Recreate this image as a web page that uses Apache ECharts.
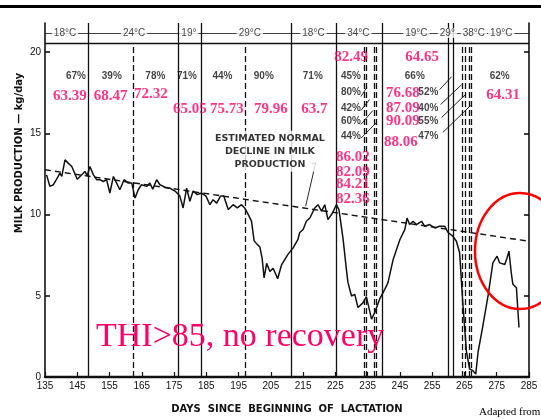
<!DOCTYPE html>
<html><head><meta charset="utf-8">
<script src="https://cdn.jsdelivr.net/npm/echarts@6/dist/echarts.min.js"></script>
<style>html,body{margin:0;padding:0;background:#fff}#c{width:541px;height:419px}</style>
</head><body><div id="c"></div>
<script>
// ---- data ----
const days = [
135.5,136.5,137.6,139.1,139.6,140.2,141.2,142.2,143.3,145.0,
146.4,147.4,148.1,148.9,150.0,151.0,152.0,153.1,154.1,155.1,
156.2,157.2,158.2,159.5,160.8,161.9,162.9,163.9,164.9,166.5,
167.5,168.4,169.6,170.6,172.2,173.7,175.3,176.8,177.8,178.9,
179.9,180.9,182.2,183.5,184.9,186.1,187.1,188.2,189.4,190.4,
191.8,193.3,194.6,195.9,196.9,198.0,199.0,199.8,200.6,201.6,
202.3,202.9,203.7,204.7,205.7,207.1,208.3,210.3,211.9,213.4,
213.9,215.0,216.0,217.1,218.6,219.6,220.7,221.7,222.7,224.1,
225.3,226.1,227.4,228.4,228.9,230.0,231.0,232.0,233.6,234.6,
236.2,237.2,238.7,240.3,241.3,242.9,245.0,246.5,247.2,248.0,
249.1,250.1,251.7,252.7,254.2,255.8,257.3,258.9,259.9,261.4,
262.5,263.5,264.5,265.6,266.6,267.6,268.5,269.2,270.7,272.3,
273.8,275.1,275.9,277.5,278.2,278.8,279.5,280.0,281.1,281.6,281.9];
const milk = [
12.45,11.74,11.84,12.35,12.55,12.35,13.37,13.17,12.96,12.18,
12.45,12.66,12.39,12.96,12.45,12.15,12.15,12.04,12.15,11.33,
12.35,11.94,11.53,12.15,11.94,11.94,11.02,11.53,11.84,11.74,
11.94,11.57,12.15,11.84,11.69,11.63,11.45,11.14,10.41,11.63,
10.82,11.45,11.23,11.33,11.14,10.61,10.92,10.71,11.14,11.14,
10.31,10.61,10.41,10.61,10.41,10.0,9.6,8.4,8.2,8.0,
7.3,6.1,7.0,6.5,6.7,6.05,6.9,7.55,7.95,8.47,
8.88,9.08,9.59,9.79,10.41,10.61,10.21,10.61,9.69,10.1,
10.61,10.31,8.47,6.63,5.81,4.99,5.09,4.28,4.58,4.95,
3.56,3.97,4.79,5.4,5.81,7.24,8.47,9.08,9.79,9.39,
9.59,9.39,9.59,9.28,9.39,9.18,9.28,9.28,8.9,8.67,
8.36,7.65,4.5,1.6,0.49,0.39,0.18,1.51,3.15,5.0,
7.03,7.44,7.03,6.93,7.34,7.75,6.42,5.71,5.5,3.97,3.05];

const normalDays = [135, 285];
const normalMilk = [12.76, 8.36];

const solidLines = [148.3, 176.2, 183.3, 211.2, 225.4, 239.5, 259.9, 261.4];
const dashedLines = [162.3, 197.2, 233.9, 234.6, 236.9, 237.7, 264.4, 265.1, 266.4, 267.1];

const tempLabels = ['18°C','24°C','19°','29°C','18°C','34°C','19°C','29°','38°C','19°C'];
const tempDays   = [141.2, 162.6, 179.6, 198.5, 218.2, 232.1, 250.1, 259.7, 267.9, 276.4];

const humLabels = ['67%','39%','78%','71%','44%','90%','71%','45%','80%','42%','60%','44%','66%','52%','40%','55%','47%','62%'];
const humDays   = [144.6,155.7,169.2,179.0,190.0,202.8,218.0,229.8,229.8,229.8,229.8,229.8,249.6,253.8,253.8,253.8,253.8,275.9];
const humVals   = [18.55,18.55,18.55,18.55,18.55,18.55,18.55,18.49,17.51,16.53,15.74,14.82,18.55,17.51,16.53,15.74,14.82,18.55];

const thiLabels = ['63.39','68.47','72.32','65.05','75.73','79.96','63.7','82.49','64.65','76.68','87.09','90.09','88.06','64.31','86.02','82.09','84.21','82.36'];
const thiDays   = [142.7,155.3,167.8,179.9,191.4,205.0,218.5,229.9,251.9,245.9,245.9,245.9,245.3,277.0,230.4,230.4,230.4,230.4];
const thiVals   = [17.27,17.27,17.4,16.47,16.47,16.47,16.47,19.72,19.72,17.51,16.53,15.74,14.45,17.33,13.53,12.61,11.88,10.96];

const leaderFrom = [[232.9,17.27],[232.9,16.41],[232.9,15.55],[232.9,14.70],[257.3,17.70],[257.6,16.78],[257.9,15.98],[258.3,15.06],[217.7,13.1],[218.9,13.2]];
const leaderTo   = [[234.7,17.82],[235.6,17.09],[236.6,16.41],[237.8,15.68],[261.0,18.49],[264.1,18.0],[265.3,17.39],[266.9,16.72],[218.9,13.2],[215.8,10.53]];

const xTicks = [135,145,155,165,175,185,195,205,215,225,235,245,255,265,275,285];
const yTicks = [0,5,10,15,20];
const yMax = 21.8, headerBottom = 20.55, headerMid = 21.19;
const noteText = 'ESTIMATED NORMAL\nDECLINE IN MILK\nPRODUCTION';
const noteAt = [204.7, 13.9];

// ---- chart ----
const INK = '#111';
const PINK = '#ff0066';
const chart = echarts.init(document.getElementById('c'));

const ml = [];
solidLines.forEach(d => ml.push([{coord:[d,0], lineStyle:{type:'solid', width:1.3}}, {coord:[d,yMax]}]));
dashedLines.forEach(d => ml.push([{coord:[d,0], lineStyle:{type:[6,3], width:1.3}}, {coord:[d,headerBottom]}]));
ml.push([{coord:[135,headerBottom], lineStyle:{type:'solid', width:1.3}}, {coord:[285,headerBottom]}]);
ml.push([{coord:[135,headerMid], lineStyle:{type:'solid', width:0.8}}, {coord:[285,headerMid]}]);
leaderFrom.forEach((p,i) => ml.push([{coord:p, lineStyle:{type:'solid', width:0.9}}, {coord:leaderTo[i]}]));

function labelSeries(names, xs, ys, style, z) {
  return {
    type:'scatter', symbolSize:1, itemStyle:{color:'rgba(0,0,0,0)'}, z:z, silent:true,
    data: names.map((n,i) => ({name:n, value:[xs[i], ys[i]]})),
    label: Object.assign({show:true, position:'inside', formatter:'{b}'}, style)
  };
}

const option = {
  animation:false,
  backgroundColor:'#fff',
  grid:{left:45, right:12, top:23, bottom:40},
  xAxis:[{
    type:'value', min:135, max:285, position:'bottom',
    axisLine:{lineStyle:{color:INK, width:1.6}},
    axisTick:{inside:true, length:5, customValues:xTicks, lineStyle:{color:INK, width:1.2}},
    axisLabel:{customValues:xTicks, color:INK, fontSize:10, margin:4, fontFamily:'Liberation Sans'},
    splitLine:{show:false},
    name:'DAYS  SINCE  BEGINNING  OF  LACTATION', nameLocation:'middle', nameGap:27,
    nameTextStyle:{color:INK, fontSize:10, fontWeight:'bold', fontFamily:'DejaVu Sans'}
  },{
    type:'value', min:135, max:285, position:'top',
    axisLine:{lineStyle:{color:INK, width:2.4}}, axisTick:{show:false}, axisLabel:{show:false}, splitLine:{show:false}
  }],
  yAxis:[{
    type:'value', min:0, max:yMax, position:'left',
    axisLine:{show:true, lineStyle:{color:INK, width:1.6}},
    axisTick:{show:true, inside:true, length:5, customValues:yTicks, lineStyle:{color:INK, width:1.6}},
    axisLabel:{customValues:yTicks, color:INK, fontSize:10, margin:4, fontFamily:'Liberation Sans'},
    splitLine:{show:false}
  },{
    type:'value', min:0, max:yMax, position:'right',
    axisLine:{show:true, lineStyle:{color:INK, width:1.6}},
    axisTick:{show:true, inside:true, length:5, customValues:[5,10,15,20], lineStyle:{color:INK, width:1.6}},
    axisLabel:{show:false}, splitLine:{show:false}
  }],
  series:[
    {
      name:'milk', type:'line', symbol:'none', z:5,
      data: days.map((d,i) => [d, milk[i]]),
      lineStyle:{color:INK, width:1.5},
      markLine:{silent:true, symbol:['none','none'], label:{show:false}, lineStyle:{color:INK}, data:ml}
    },
    {
      name:'normal', type:'line', symbol:'none', z:4,
      data: normalDays.map((d,i) => [d, normalMilk[i]]),
      lineStyle:{color:INK, width:1.4, type:[6,4]}
    },
    labelSeries(tempLabels, tempDays, tempDays.map(() => headerMid),
      {color:INK, fontSize:10, fontFamily:'Liberation Sans', backgroundColor:'#fff', padding:[0,2]}, 10),
    labelSeries(humLabels, humDays, humVals,
      {color:INK, fontSize:10, fontWeight:'bold', fontFamily:'Liberation Sans'}, 10),
    labelSeries([noteText], [noteAt[0]], [noteAt[1]],
      {color:'#000', fontSize:9.5, fontWeight:'bold', fontFamily:'DejaVu Sans', lineHeight:13, align:'center', backgroundColor:'#fff', padding:[1,2]}, 10),
    labelSeries(thiLabels, thiDays, thiVals,
      {color:PINK, fontSize:15, fontWeight:'bold', fontFamily:'Liberation Serif'}, 20)
  ],
  graphic:[
    {type:'rect', left:0, top:5, shape:{width:541, height:3}, style:{fill:'#000'}, z:100},
    {type:'text', x:19, y:153, rotation:Math.PI/2, style:{text:'MILK PRODUCTION — kg/day', align:'center', verticalAlign:'middle', font:'bold 10px "DejaVu Sans"', fill:INK}, z:100},
    {type:'text', x:96, y:337, style:{text:'THI>85, no recovery', verticalAlign:'middle', font:'34px "Liberation Serif"', fill:PINK}, z:100},
    {type:'ellipse', shape:{cx:520, cy:251, rx:45, ry:58}, style:{fill:'none', stroke:'#ff0000', lineWidth:2.5}, z:100},
    {type:'text', x:479, y:412, style:{text:'Adapted from', verticalAlign:'middle', font:'11px "Liberation Serif"', fill:'#000'}, z:100}
  ]
};
chart.setOption(option);
</script></body></html>
